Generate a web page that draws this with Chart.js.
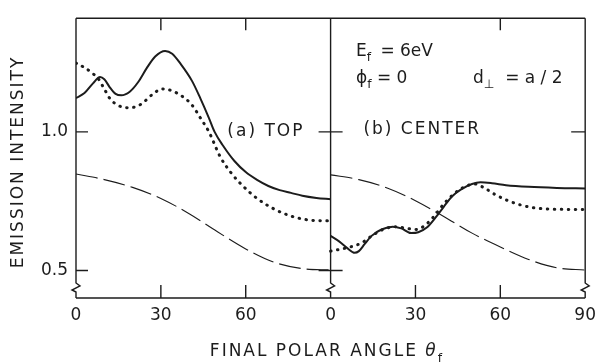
<!DOCTYPE html>
<html>
<head>
<meta charset="utf-8">
<script src="https://cdn.jsdelivr.net/npm/chart.js@4.4.1/dist/chart.umd.min.js"></script>
<style>
  body { margin: 0; background: #fff; }
  canvas { display: block; }
</style>
</head>
<body>
<canvas id="grafica" width="603" height="364"></canvas>
<script>
// (a) TOP - curvas
const angTopSolid = [0, 3, 6, 8.5, 10, 12, 14, 16, 19, 22, 25, 28, 31.5, 34, 37, 41, 44, 47, 49, 52, 56, 60, 64, 68, 72, 76, 80, 85, 90];
const topSolid    = [1.122, 1.14, 1.175, 1.198, 1.19, 1.16, 1.137, 1.132, 1.145, 1.18, 1.23, 1.272, 1.292, 1.282, 1.245, 1.184, 1.12, 1.05, 1.0, 0.95, 0.895, 0.855, 0.827, 0.805, 0.79, 0.78, 0.77, 0.762, 0.757];

const angTopDot = [0, 3, 6, 8, 10, 12, 15, 19, 23, 27, 30.5, 34, 38, 41, 44, 47, 51, 55, 59, 64, 70, 75, 80, 85, 90];
const topDot    = [1.248, 1.232, 1.21, 1.19, 1.155, 1.12, 1.095, 1.087, 1.1, 1.135, 1.155, 1.148, 1.125, 1.097, 1.05, 1.0, 0.91, 0.85, 0.805, 0.76, 0.722, 0.7, 0.686, 0.68, 0.679];

const angTopDash = [0, 10, 20, 30, 40, 50, 60, 70, 80, 90];
const topDash    = [0.848, 0.828, 0.8, 0.76, 0.705, 0.64, 0.578, 0.53, 0.507, 0.502];

// (b) CENTER - curvas
const angCenSolid = [0, 3, 6, 8.5, 10, 12, 14.5, 18, 22, 25, 28.5, 31, 34, 37, 40, 43, 46, 50, 53, 57, 62, 70, 80, 90];
const cenSolid    = [0.625, 0.605, 0.58, 0.564, 0.57, 0.595, 0.625, 0.648, 0.658, 0.652, 0.635, 0.638, 0.655, 0.69, 0.73, 0.768, 0.792, 0.812, 0.818, 0.815, 0.808, 0.802, 0.798, 0.796];

const angCenDot = [0, 4, 8, 11, 15, 19, 23, 27, 30, 33, 36.5, 40, 44, 48, 51, 54, 58, 62, 66, 72, 80, 90];
const cenDot    = [0.57, 0.578, 0.588, 0.6, 0.628, 0.65, 0.658, 0.652, 0.648, 0.66, 0.695, 0.74, 0.78, 0.805, 0.812, 0.8, 0.775, 0.755, 0.74, 0.726, 0.721, 0.72];

const angCenDash = [0, 10, 20, 30, 40, 50, 60, 70, 80, 90];
const cenDash    = [0.845, 0.828, 0.798, 0.752, 0.695, 0.635, 0.585, 0.54, 0.51, 0.502];

const yTicks = [0.5, 1.0];

const FUENTE = '"DejaVu Sans", sans-serif';
const TINTA = '#1c1c1c';

const solido = { borderColor: TINTA, borderWidth: 2 };
const punteado = { borderColor: TINTA, borderWidth: 3, borderDash: [0.5, 6.5], borderCapStyle: 'round' };
const rayado = { borderColor: TINTA, borderWidth: 1.1, borderDash: [22, 6] };

function serie(ang, val, desplazamiento, estilo) {
    return Object.assign({
        data: ang.map((a, i) => ({ x: a + desplazamiento, y: val[i] })),
        pointRadius: 0,
        cubicInterpolationMode: 'monotone',
        fill: false
    }, estilo);
}

// texto con subindice: partes [texto, esSub, italica]
function textoPartes(ctx, partes, x, y, size) {
    let cx = x;
    partes.forEach(([t, sub, italica]) => {
        const s = sub ? size * 0.72 : size;
        ctx.font = (italica ? 'italic ' : '') + s + 'px ' + FUENTE;
        ctx.fillText(t, cx, sub ? y + size * 0.38 : y);
        cx += ctx.measureText(t).width;
    });
}

const marco = {
    id: 'marco',
    afterDraw(chart) {
        const { ctx, chartArea: a, scales: { x, y } } = chart;
        const xm = x.getPixelForValue(90);
        ctx.save();
        ctx.strokeStyle = TINTA;
        ctx.lineWidth = 1.4;
        ctx.beginPath();
        ctx.moveTo(a.left, a.top); ctx.lineTo(a.right, a.top);
        ctx.moveTo(a.left, a.bottom); ctx.lineTo(a.right, a.bottom);
        // verticales con corte
        const z0 = a.bottom - 15;
        [a.left, xm, a.right].forEach(X => {
            ctx.moveTo(X, a.top);
            ctx.lineTo(X, z0);
            ctx.lineTo(X + 4, z0 + 3);
            ctx.lineTo(X - 4, z0 + 7);
            ctx.lineTo(X, z0 + 9);
            ctx.lineTo(X, a.bottom);
        });
        // marcas eje y
        yTicks.forEach(v => {
            const py = y.getPixelForValue(v);
            ctx.moveTo(a.left, py); ctx.lineTo(a.left + 12, py);
            ctx.moveTo(xm - 12, py); ctx.lineTo(xm + 12, py);
        });
        const p1 = y.getPixelForValue(1.0);
        ctx.moveTo(a.right - 14, p1); ctx.lineTo(a.right, p1);
        // marcas eje x
        [30, 60, 120, 150].forEach(v => {
            const px = x.getPixelForValue(v);
            ctx.moveTo(px, a.bottom); ctx.lineTo(px, a.bottom - 13);
        });
        [30, 60, 150].forEach(v => {
            const px = x.getPixelForValue(v);
            ctx.moveTo(px, a.top); ctx.lineTo(px, a.top + 12);
        });
        ctx.stroke();

        // textos
        ctx.fillStyle = TINTA;
        ctx.textBaseline = 'middle';
        ctx.textAlign = 'left';
        ctx.letterSpacing = '2px';
        ctx.font = '17px ' + FUENTE;
        ctx.fillText('(a) TOP', x.getPixelForValue(53.5), y.getPixelForValue(1.0));
        ctx.fillText('(b) CENTER', x.getPixelForValue(90 + 11.6), y.getPixelForValue(1.01));

        ctx.letterSpacing = '0px';
        const xa = x.getPixelForValue(90 + 9);
        textoPartes(ctx, [['E'], ['f ', true], [' = 6eV']], xa, y.getPixelForValue(1.291), 17);
        textoPartes(ctx, [['\u03D5'], ['f', true], [' = 0']], xa, y.getPixelForValue(1.192), 17);
        textoPartes(ctx, [['d'], ['\u22A5', true], ['  = a / 2']], x.getPixelForValue(90 + 50.3), y.getPixelForValue(1.192), 17);

        // titulo eje x
        ctx.letterSpacing = '2px';
        ctx.font = '17px ' + FUENTE;
        const t1 = 'FINAL POLAR ANGLE ';
        const w1 = ctx.measureText(t1).width;
        const total = w1 + 26;
        const xt = (a.left + a.right) / 2 - total / 2;
        textoPartes(ctx, [[t1], ['\u03B8', false, true], ['f', true]], xt, 352, 17);

        // titulo eje y
        ctx.translate(19, 162);
        ctx.rotate(-Math.PI / 2);
        ctx.textAlign = 'center';
        ctx.font = '17px ' + FUENTE;
        ctx.fillText('EMISSION INTENSITY', 0, 0);
        ctx.restore();
    }
};

const ctx = document.getElementById('grafica').getContext('2d');
window.miGrafica = new Chart(ctx, {
    type: 'line',
    data: {
        datasets: [
            serie(angTopSolid, topSolid, 0, solido),
            serie(angTopDot, topDot, 0, punteado),
            serie(angTopDash, topDash, 0, rayado),
            serie(angCenSolid, cenSolid, 90, solido),
            serie(angCenDot, cenDot, 90, punteado),
            serie(angCenDash, cenDash, 90, rayado)
        ]
    },
    options: {
        responsive: false,
        animation: false,
        devicePixelRatio: 1,
        layout: { padding: { top: 12, right: 14, left: 0, bottom: 0 } },
        plugins: {
            legend: { display: false },
            tooltip: { enabled: false }
        },
        scales: {
            x: {
                type: 'linear',
                min: 0, max: 180,
                grid: { display: false, drawTicks: false },
                border: { display: false },
                ticks: {
                    stepSize: 30,
                    padding: 7,
                    color: TINTA,
                    font: { family: FUENTE, size: 17 },
                    maxRotation: 0,
                    callback: v => v <= 90 ? (v === 90 ? '0' : String(v)) : String(v - 90)
                },
                afterFit(s) { s.height = 66; }
            },
            y: {
                min: 0.401, max: 1.41,
                grid: { display: false, drawTicks: false },
                border: { display: false },
                afterBuildTicks(s) { s.ticks = yTicks.map(v => ({ value: v })); },
                ticks: {
                    padding: 8,
                    color: TINTA,
                    font: { family: FUENTE, size: 17 },
                    callback: v => v.toFixed(1)
                },
                afterFit(s) { s.width = 76; }
            }
        }
    },
    plugins: [marco]
});
</script>
</body>
</html>
